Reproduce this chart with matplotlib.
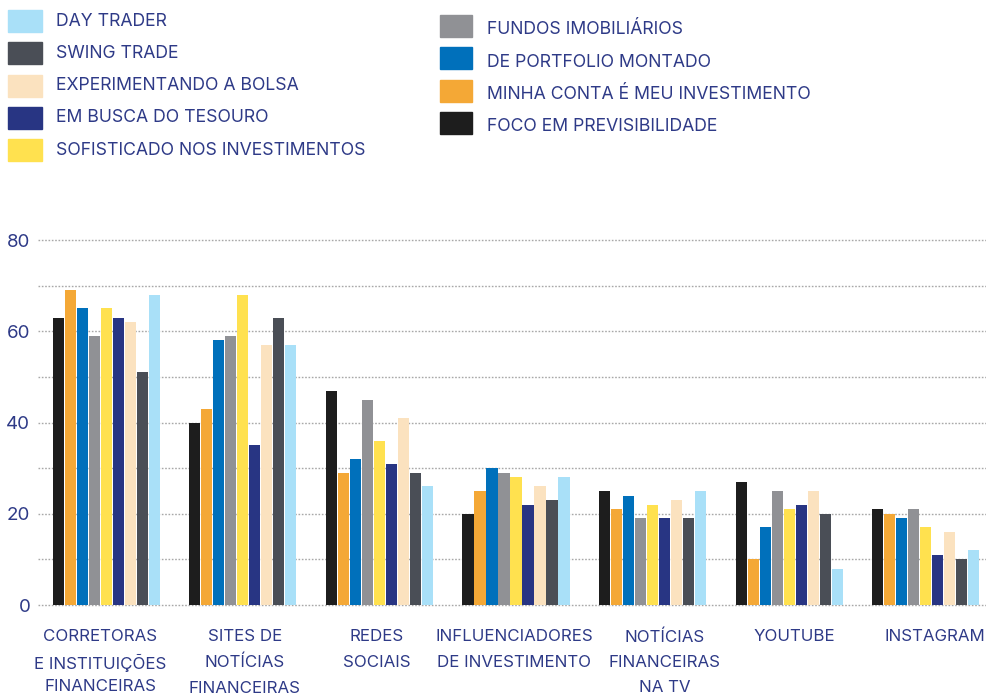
import matplotlib
matplotlib.use("Agg")
import matplotlib.pyplot as plt
import matplotlib.transforms as mtransforms
import numpy as np
from matplotlib.patches import Rectangle

categories = [
    "CORRETORAS\nE INSTITUIÇÕES\nFINANCEIRAS",
    "SITES DE\nNOTÍCIAS\nFINANCEIRAS",
    "REDES\nSOCIAIS",
    "INFLUENCIADORES\nDE INVESTIMENTO",
    "NOTÍCIAS\nFINANCEIRAS\nNA TV",
    "YOUTUBE",
    "INSTAGRAM",
]

# Series in drawing order within each group (left to right)
foco_previsibilidade = [63, 40, 47, 20, 25, 27, 21]
minha_conta = [69, 43, 29, 25, 21, 10, 20]
portfolio_montado = [65, 58, 32, 30, 24, 17, 19]
fundos_imobiliarios = [59, 59, 45, 29, 19, 25, 21]
sofisticado = [65, 68, 36, 28, 22, 21, 17]
busca_tesouro = [63, 35, 31, 22, 19, 22, 11]
experimentando = [62, 57, 41, 26, 23, 25, 16]
swing_trade = [51, 63, 29, 23, 19, 20, 10]
day_trader = [68, 57, 26, 28, 25, 8, 12]

series = [
    ("FOCO EM PREVISIBILIDADE", foco_previsibilidade, "#1d1d1d"),
    ("MINHA CONTA É MEU INVESTIMENTO", minha_conta, "#f4a836"),
    ("DE PORTFOLIO MONTADO", portfolio_montado, "#0070bb"),
    ("FUNDOS IMOBILIÁRIOS", fundos_imobiliarios, "#909195"),
    ("SOFISTICADO NOS INVESTIMENTOS", sofisticado, "#ffe14f"),
    ("EM BUSCA DO TESOURO", busca_tesouro, "#283583"),
    ("EXPERIMENTANDO A BOLSA", experimentando, "#fbe2bf"),
    ("SWING TRADE", swing_trade, "#4a4e56"),
    ("DAY TRADER", day_trader, "#a9e0f8"),
]

legend_left = ["DAY TRADER", "SWING TRADE", "EXPERIMENTANDO A BOLSA",
               "EM BUSCA DO TESOURO", "SOFISTICADO NOS INVESTIMENTOS"]
legend_right = ["FUNDOS IMOBILIÁRIOS", "DE PORTFOLIO MONTADO",
                "MINHA CONTA É MEU INVESTIMENTO", "FOCO EM PREVISIBILIDADE"]

yticks = [0, 20, 40, 60, 80]
text_color = "#2e3a87"
font = ["Inter", "DejaVu Sans"]

W, H = 986, 695
fig = plt.figure(figsize=(W / 100, H / 100), dpi=100)

# axes spans beyond the right edge so the last group is cropped
ax_left, ax_right = 38, 994
ax_bottom, ax_top = 605, 240
ax = fig.add_axes([ax_left / W, (H - ax_bottom) / H,
                   (ax_right - ax_left) / W, (ax_bottom - ax_top) / H])

x = np.arange(len(categories))
slot = 0.0879
bar_w = 0.081
n = len(series)
for i, (name, vals, color) in enumerate(series):
    offs = (i - (n - 1) / 2) * slot
    ax.bar(x + offs, vals, width=bar_w, color=color, linewidth=0, zorder=3)

ax.set_xlim(-0.5, len(categories) - 0.5)
ax.set_ylim(0, 80)

for v in range(0, 81, 10):
    ax.axhline(v, color="#a8a8a8", linestyle=(0, (1.2, 1.2)), linewidth=1.0,
               zorder=1, clip_on=False)

for s in ax.spines.values():
    s.set_visible(False)

ax.set_yticks(yticks)
ax.set_yticklabels([str(t) for t in yticks])
ax.tick_params(axis="y", length=0, pad=5.5, labelsize=13.5, labelcolor=text_color)
for lab in ax.get_yticklabels():
    lab.set_family(font)

ax.set_xticks(x)
ax.set_xticklabels(categories, linespacing=1.85)
ax.tick_params(axis="x", length=0, pad=17.5, labelsize=12.2, labelcolor=text_color)
# small horizontal nudges (pixels) for individual category labels
label_shift = [-6, 2, -3, -2, 12, 5, 9]
for lab, dx in zip(ax.get_xticklabels(), label_shift):
    lab.set_family(font)
    lab.set_transform(lab.get_transform() +
                      mtransforms.ScaledTranslation(dx / 100, 0, fig.dpi_scale_trans))
# accented second line adds height; tighten that label's spacing
ax.get_xticklabels()[0].set_linespacing(1.62)

# legend drawn as two columns of swatches and labels
colors = {name: color for name, _, color in series}
row_gap = 32.3
for j, name in enumerate(legend_left):
    yc = 21 + j * row_gap
    fig.patches.append(Rectangle((8 / W, (H - yc - 11) / H), 34 / W, 22 / H,
                                 transform=fig.transFigure, color=colors[name]))
    fig.text(56 / W, (H - yc) / H, name, color=text_color, fontsize=12.7,
             family=font, va="center", ha="left")
for j, name in enumerate(legend_right):
    yc = 30 + j * row_gap
    fig.patches.append(Rectangle((440 / W, (H - yc - 7) / H), 32 / W, 22 / H,
                                 transform=fig.transFigure, color=colors[name]))
    fig.text(487 / W, (H - yc) / H, name, color=text_color, fontsize=12.7,
             family=font, va="center", ha="left")

fig.savefig("out.png", dpi=100)
